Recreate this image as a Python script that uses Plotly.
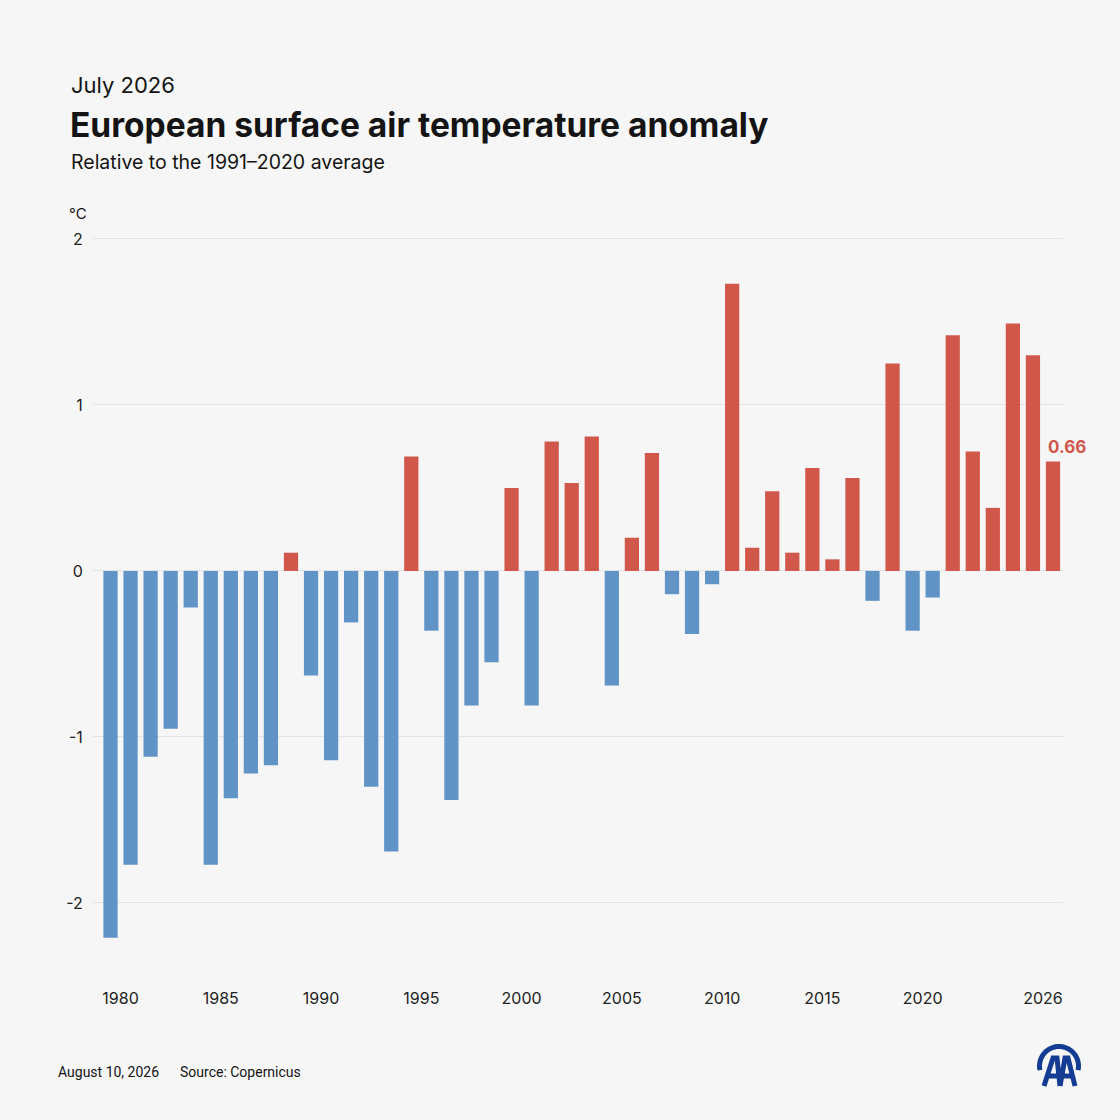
import math
import plotly.graph_objects as go

# July anomaly (°C) vs 1991-2020, Europe
years = list(range(1979, 2027))
anomaly = [
    -2.21, -1.77, -1.12, -0.95, -0.22, -1.77, -1.37, -1.22, -1.17, 0.11,
    -0.63, -1.14, -0.31, -1.30, -1.69, 0.69, -0.36, -1.38, -0.81, -0.55,
    0.50, -0.81, 0.78, 0.53, 0.81, -0.69, 0.20, 0.71, -0.14, -0.38,
    -0.08, 1.73, 0.14, 0.48, 0.11, 0.62, 0.07, 0.56, -0.18, 1.25,
    -0.36, -0.16, 1.42, 0.72, 0.38, 1.49, 1.30, 0.66,
]
x_tick_years = [1980, 1985, 1990, 1995, 2000, 2005, 2010, 2015, 2020, 2026]
y_ticks = [-2, -1, 0, 1, 2]
y_tick_text = ["-2", "-1", "0", "1", "2"]

RED = "#d2574b"
BLUE = "#6094c7"
BG = "#f6f6f6"
INK = "#141414"

W, H = 1120, 1120
ML, MR, MT, MB = 93, 57, 231, 151
PW, PH = W - ML - MR, H - MT - MB


def px(x):
    return (x - ML) / PW


def py(y):
    return (H - MB - y) / PH


colors = [RED if v >= 0 else BLUE for v in anomaly]

fig = go.Figure()
fig.add_trace(go.Bar(
    x=years,
    y=anomaly,
    marker=dict(color=colors, line=dict(width=0)),
    width=0.71,
    hovertemplate="%{x}: %{y:.2f} °C<extra></extra>",
))

fig.update_layout(
    width=W, height=H, autosize=False,
    margin=dict(l=ML, r=MR, t=MT, b=MB),
    paper_bgcolor=BG, plot_bgcolor=BG,
    showlegend=False,
    font=dict(family="Inter, Lato, sans-serif", color=INK),
    xaxis=dict(
        range=[1978.127, 2026.499],
        tickvals=[y - 0.5 for y in x_tick_years],
        ticktext=[str(y) for y in x_tick_years],
        ticks="outside", ticklen=15, tickcolor="rgba(0,0,0,0)",
        showgrid=False, zeroline=False, showline=False,
        tickfont=dict(size=16, color="#222"),
    ),
    yaxis=dict(
        range=[-2.398, 2.048],
        tickvals=y_ticks, ticktext=y_tick_text,
        ticks="outside", ticklen=6, tickcolor="rgba(0,0,0,0)",
        showgrid=True, gridcolor="#e3e3e3", gridwidth=1,
        zeroline=False, showline=False,
        tickfont=dict(size=16, color="#222"),
    ),
)

# value label on the latest bar
fig.add_annotation(
    x=years[-1] - 0.36, y=anomaly[-1], xref="x", yref="y",
    text=f"<b>{anomaly[-1]:.2f}</b>", showarrow=False,
    xanchor="left", yanchor="bottom", yshift=2,
    font=dict(size=17, color=RED),
)

texts = [
    ("July 2026", 69, 85, 22, "Inter, sans-serif"),
    ("<b>European surface air temperature anomaly</b>", 68, 125, 33.5, "Inter, sans-serif"),
    ("Relative to the 1991–2020 average", 69, 162, 19.5, "Inter, sans-serif"),
    ("°C", 67, 213, 15, "Inter, sans-serif"),
    ("August 10, 2026", 56, 1072, 14, "Roboto, sans-serif"),
    ("Source: Copernicus", 178, 1072, 14, "Roboto, sans-serif"),
]
for t, x, y, s, fam in texts:
    fig.add_annotation(
        x=px(x), y=py(y), xref="paper", yref="paper", text=t,
        showarrow=False, xanchor="left", yanchor="middle",
        font=dict(family=fam, size=s, color=INK),
    )

# AA logo drawn with pixel-sized paths
LOGO = "#143c93"
pts = []
for k in range(0, 41):
    a = math.radians(-12 + 204 * k / 40)
    pts.append((19.5 * math.cos(a), 19.5 * math.sin(a)))
arc = "M " + " L ".join(f"{x:.2f},{y:.2f}" for x, y in pts)
letters = (
    "M -15,-20 L -6,8 L -2,8 L 1,-20 "
    "M -10,-10 L -2,-10 "
    "M 1,-20 L 6,8 L 9,8 L 16,-20 "
    "M 4,-10 L 12,-10"
)
for p, lw in [(arc, 5), (letters, 5)]:
    fig.add_shape(
        type="path", path=p, xref="paper", yref="paper",
        xsizemode="pixel", ysizemode="pixel",
        xanchor=px(1059), yanchor=py(1066),
        line=dict(color=LOGO, width=lw),
    )

fig.write_html(
    "out.html",
    config={"displayModeBar": False},
    post_script="document.body.style.margin='0px';",
)
